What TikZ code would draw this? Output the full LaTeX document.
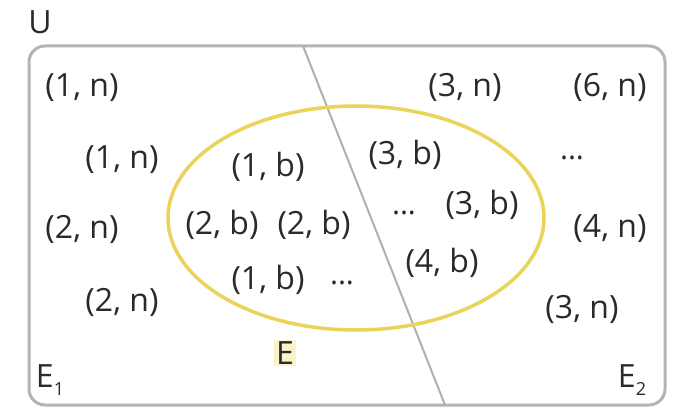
\documentclass[tikz,border=0pt]{standalone}
\usepackage{fontspec}
\setmainfont{Open Sans}
\definecolor{boxgray}{HTML}{B4B4B4}
\definecolor{linegray}{HTML}{B0B0B0}
\definecolor{ellyellow}{HTML}{EBD35A}
\definecolor{hilite}{HTML}{FBF3C8}
\definecolor{txt}{HTML}{2A2A2A}
\newcommand{\lowsub}[1]{\raisebox{-0.45ex}{\fontsize{18}{20}\selectfont #1}}
\begin{document}
\begin{tikzpicture}[x=1pt,y=-1pt,
  lbl/.style={font=\fontsize{32}{36}\selectfont, text=txt, inner sep=0pt},
  dots/.style={font=\fontsize{30}{34}\selectfont, text=txt, inner sep=0pt}]
\useasboundingbox (0,0) rectangle (677,409);
\fill[white] (0,0) rectangle (677,409);
% universe box
\draw[boxgray, line width=3pt, rounded corners=16pt] (29,46) rectangle (665,405);
% dividing line
\coordinate (ltop) at (303,46);
\coordinate (lbot) at (445,405);
\draw[linegray, line width=2pt] (ltop) -- (lbot);
% event ellipse
\draw[ellyellow, line width=3.5pt] (356,218) ellipse [x radius=188, y radius=112];
% labels
\node[lbl] (U) at (40,22) {U};
\node[lbl] (a1) at (82,88) {(1, n)};
\node[lbl] (a2) at (122,160) {(1, n)};
\node[lbl] (a3) at (82,229) {(2, n)};
\node[lbl] (a4) at (122,302) {(2, n)};
\node[lbl] (b1) at (268,167) {(1, b)};
\node[lbl] (b2) at (222,225) {(2, b)};
\node[lbl] (b3) at (314,225) {(2, b)};
\node[lbl] (b4) at (268,280) {(1, b)};
\node[dots] (d1) at (342,283) {...};
\node[lbl] (c1) at (405,155) {(3, b)};
\node[dots] (d2) at (404,213) {...};
\node[lbl] (c2) at (482,205) {(3, b)};
\node[lbl] (c3) at (442,263) {(4, b)};
\node[lbl] (e1) at (465,87) {(3, n)};
\node[lbl] (e2) at (610,87) {(6, n)};
\node[dots] (d3) at (572,158) {...};
\node[lbl] (e3) at (610,229) {(4, n)};
\node[lbl] (e4) at (582,309) {(3, n)};
\node[lbl, fill=hilite, inner sep=2pt] (E) at (285,353) {E};
\node[lbl] (E1) at (50,380) {E\lowsub{1}};
\node[lbl] (E2) at (632,380) {E\lowsub{2}};
\end{tikzpicture}
\end{document}
